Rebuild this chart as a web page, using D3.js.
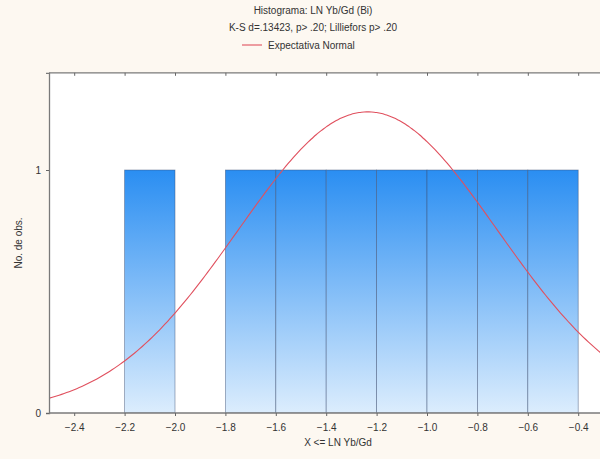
<!DOCTYPE html>
<html>
<head>
<meta charset="utf-8">
<script src="https://cdn.jsdelivr.net/npm/d3@7"></script>
<style>
  html, body { margin: 0; padding: 0; background: #fdf8f1; }
  svg { display: block; }
  text { font-family: Arial, "Liberation Sans", sans-serif; fill: #333; }
</style>
</head>
<body>
<svg id="chart" width="600" height="459"></svg>
<script>
// Histogram bins (lower edge) and observed counts
const binStarts = [-2.2, -2.0, -1.8, -1.6, -1.4, -1.2, -1.0, -0.8, -0.6];
const binWidth = 0.2;
const counts = [1, 0, 1, 1, 1, 1, 1, 1, 1];
const xTicks = [-2.4, -2.2, -2.0, -1.8, -1.6, -1.4, -1.2, -1.0, -0.8, -0.6, -0.4];
const yTicks = [0, 1];
// Fitted normal expectation
const normalMean = -1.235;
const normalSd = 0.515;

const titleLines = ["Histograma: LN Yb/Gd (Bi)", "K-S d=.13423, p> .20; Lilliefors p> .20"];
const legendLabel = "Expectativa Normal";
const xLabel = "X <= LN Yb/Gd";
const yLabel = "No. de obs.";

const svg = d3.select("#chart");
const W = 600, H = 459;
const mLeft = 49, mTop = 72.8, mBottom = 413;

const x = d3.scaleLinear().domain([-2.5, -0.3]).range([mLeft, mLeft + 2.2 * 252]);
const y = d3.scaleLinear().domain([0, 1.4]).range([mBottom, mTop]);

svg.append("rect").attr("width", W).attr("height", H).attr("fill", "#fdf8f1");

const defs = svg.append("defs");
const grad = defs.append("linearGradient").attr("id", "barGrad")
  .attr("x1", 0).attr("y1", 0).attr("x2", 0).attr("y2", 1);
grad.append("stop").attr("offset", "0%").attr("stop-color", "#2a8ef2");
grad.append("stop").attr("offset", "100%").attr("stop-color", "#dcedfd");
defs.append("clipPath").attr("id", "plotClip").append("rect")
  .attr("x", mLeft).attr("y", mTop).attr("width", W - mLeft).attr("height", mBottom - mTop);

// Plot area
svg.append("rect").attr("x", mLeft).attr("y", mTop)
  .attr("width", W - mLeft).attr("height", mBottom - mTop).attr("fill", "#ffffff");

const plot = svg.append("g").attr("clip-path", "url(#plotClip)");

const bins = binStarts.map((s, i) => ({ x0: s, x1: s + binWidth, n: counts[i] }));
plot.selectAll("rect.bar").data(bins.filter(d => d.n > 0)).join("rect")
  .attr("class", "bar")
  .attr("x", d => x(d.x0))
  .attr("y", d => y(d.n))
  .attr("width", d => x(d.x1) - x(d.x0))
  .attr("height", d => y(0) - y(d.n))
  .attr("fill", "url(#barGrad)")
  .attr("stroke", "#3c4f72")
  .attr("stroke-opacity", 0.55)
  .attr("stroke-width", 0.8);

// Expected normal curve, scaled by N * bin width
const total = d3.sum(counts);
const pdf = v => Math.exp(-0.5 * ((v - normalMean) / normalSd) ** 2) / (normalSd * Math.sqrt(2 * Math.PI));
const curveX = d3.range(-2.5, -0.29, 0.01);
plot.append("path")
  .datum(curveX)
  .attr("fill", "none")
  .attr("stroke", "#e0505e")
  .attr("stroke-width", 1.1)
  .attr("d", d3.line().x(v => x(v)).y(v => y(total * binWidth * pdf(v))).curve(d3.curveBasis));

// Axes
const xAxis = svg.append("g").attr("transform", `translate(0,${mBottom})`)
  .call(d3.axisBottom(x).tickValues(xTicks).tickFormat(d3.format(".1f")).tickSize(3).tickPadding(8));
const xAxisTop = svg.append("g").attr("transform", `translate(0,${mTop})`)
  .call(d3.axisBottom(x).tickValues(xTicks).tickFormat("").tickSize(3));
const yAxis = svg.append("g").attr("transform", `translate(${mLeft},0)`)
  .call(d3.axisLeft(y).tickValues(yTicks).tickFormat(d3.format("d")).tickSize(3).tickPadding(5));

[xAxis, xAxisTop, yAxis].forEach(g => {
  g.select(".domain").attr("stroke", "#7a7a7a").attr("stroke-width", 1.3);
  g.selectAll(".tick line").attr("stroke", "#666");
  g.selectAll(".tick text").style("font-size", "10px").attr("fill", "#333");
});
xAxis.select(".domain").attr("d", `M${mLeft},0H${W}`);
xAxisTop.select(".domain").attr("d", `M${mLeft},0H${W}`);

// Titles and legend
svg.selectAll("text.title").data(titleLines).join("text")
  .attr("class", "title")
  .attr("x", 313).attr("y", (d, i) => 14 + i * 17)
  .attr("text-anchor", "middle")
  .style("font-size", "10px")
  .text(d => d);

svg.append("line").attr("x1", 242).attr("x2", 262).attr("y1", 45).attr("y2", 45)
  .attr("stroke", "#e0505e").attr("stroke-width", 1.1);
svg.append("text").attr("x", 268).attr("y", 48.5)
  .style("font-size", "10px").text(legendLabel);

svg.append("text").attr("x", 338).attr("y", 446)
  .attr("text-anchor", "middle").style("font-size", "10px").text(xLabel);
svg.append("text")
  .attr("transform", "translate(22,243) rotate(-90)")
  .attr("text-anchor", "middle").style("font-size", "10px").text(yLabel);
</script>
</body>
</html>
